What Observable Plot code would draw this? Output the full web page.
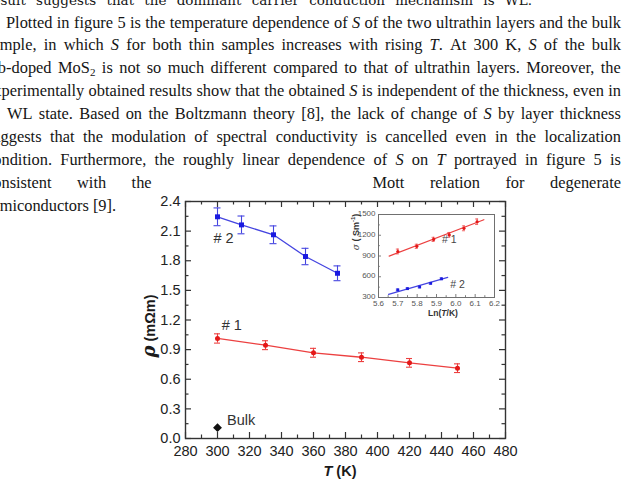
<!DOCTYPE html>
<html><head><meta charset="utf-8">
<script src="https://cdn.jsdelivr.net/npm/d3@7"></script>
<script src="https://cdn.jsdelivr.net/npm/@observablehq/plot@0.6"></script>
<style>
html,body{margin:0;padding:0;width:626px;height:487px;overflow:hidden;background:#fff;}
#page{position:relative;width:626px;height:487px;overflow:hidden;}
.para{position:absolute;left:-14px;width:635px;font-family:"Liberation Serif","Times New Roman",serif;font-size:16.4px;color:#151515;}
.line{display:flex;justify-content:space-between;align-items:baseline;column-gap:3px;height:22.875px;line-height:22.875px;white-space:nowrap;}
.line sub{font-size:11px;line-height:0;vertical-align:-3px;}
.prev{position:absolute;left:-14px;width:546px;top:-8px;font-family:"DejaVu Serif",serif;font-size:13.5px;line-height:16px;color:#151515;display:flex;justify-content:space-between;white-space:nowrap;}
.free{position:absolute;white-space:nowrap;transform:translate(-50%,-50%);font-family:"Liberation Sans",Arial,sans-serif;color:#1a1a1a;}
.rot{transform:translate(-50%,-50%) rotate(-90deg);}
#mainchart,#inset{position:absolute;}
</style></head>
<body><div id="page"></div>
<script>
// ---------- text ----------
const prevLine = "result suggests that the dominant carrier conduction mechanism is WL.";
const paraLines = [
 "Plotted in figure 5 is the temperature dependence of <i>S</i> of the two ultrathin layers and the bulk",
 "sample, in which <i>S</i> for both thin samples increases with rising <i>T</i>. At 300 K, <i>S</i> of the bulk",
 "Nb-doped MoS<sub>2</sub> is not so much different compared to that of ultrathin layers. Moreover, the",
 "experimentally obtained results show that the obtained <i>S</i> is independent of the thickness, even in",
 "WL state. Based on the Boltzmann theory [8], the lack of change of <i>S</i> by layer thickness",
 "suggests that the modulation of spectral conductivity is cancelled even in the localization",
 "condition. Furthermore, the roughly linear dependence of <i>S</i> on <i>T</i> portrayed in figure 5 is",
 "consistent with the | Mott relation for degenerate",
 "semiconductors [9]."
];

// ---------- main chart data ----------
const T2 = [300, 315, 335, 355, 375];
const rho2 = [2.245, 2.163, 2.063, 1.843, 1.673];
const err2 = [0.09, 0.09, 0.09, 0.083, 0.075];
const T1 = [300, 330, 360, 390, 420, 450];
const rho1 = [1.013, 0.945, 0.868, 0.823, 0.766, 0.712];
const err1 = [0.047, 0.045, 0.045, 0.044, 0.044, 0.044];
const bulkT = [300];
const bulkRho = [0.11];
const xMajor = [280, 300, 320, 340, 360, 380, 400, 420, 440, 460, 480];
const xMinor = [290, 310, 330, 350, 370, 390, 410, 430, 450, 470];
const yMajor = [0, 0.3, 0.6, 0.9, 1.2, 1.5, 1.8, 2.1, 2.4];
const yMinor = [0.15, 0.45, 0.75, 1.05, 1.35, 1.65, 1.95, 2.25];
const seriesNames = ["# 2", "# 1", "Bulk"];

// ---------- inset data ----------
const lnT1 = [5.70, 5.798, 5.885, 5.966, 6.042, 6.11];
const sigma1 = [965, 1040, 1140, 1205, 1300, 1395];
const sigErr1 = [35, 30, 30, 35, 35, 40];
const lnT2 = [5.70, 5.75, 5.813, 5.87, 5.926];
const sigma2 = [410, 428, 452, 505, 570];
const sigErr2 = [12, 10, 12, 12, 12];
const fit1X = [5.655, 6.145], fit1Y = [898, 1425];
const fit2X = [5.652, 5.958], fit2Y = [345, 590];
const insXTicks = [5.6, 5.7, 5.8, 5.9, 6.0, 6.1, 6.2];
const insXMinor = [5.65, 5.75, 5.85, 5.95, 6.05, 6.15];
const insYTicks = [300, 600, 900, 1200, 1500];
const insYMinor = [450, 750, 1050, 1350];

const page = document.getElementById("page");

// previous paragraph tail
const pv = document.createElement("div");
pv.className = "prev";
pv.innerHTML = prevLine.split(" ").map(w => `<span>${w}</span>`).join("");
page.appendChild(pv);

// paragraph
const para = document.createElement("div");
para.className = "para";
para.style.top = (28.5 - 16.9) + "px";
paraLines.forEach((ln, i) => {
  const d = document.createElement("div");
  d.className = "line";
  if (i === 0) d.style.paddingLeft = "20px";
  if (i === 4) d.style.paddingLeft = "21px";
  if (i === paraLines.length - 1) { d.style.justifyContent = "flex-start"; d.style.columnGap = "4px"; }
  d.innerHTML = ln.split(" ").map(w => w === "|" ? `<span style="display:inline-block;width:170px"></span>` : `<span>${w}</span>`).join("");
  para.appendChild(d);
});
page.appendChild(para);

// ---------- main chart ----------
const blue = "#1a1ae0", blueLine = "#4545e0";
const red = "#e41818", redLine = "#ec4040";
const W = 400, H = 297, mL = 55, mR = 25, mT = 11, mB = 49;
const pW = W - mL - mR, pH = H - mT - mB;
const d2 = T2.map((t, i) => ({T: t, v: rho2[i], e: err2[i]}));
const d1 = T1.map((t, i) => ({T: t, v: rho1[i], e: err1[i]}));
const db = bulkT.map((t, i) => ({T: t, v: bulkRho[i]}));
const labels = [
  {T: 297.5, v: 2.03, text: seriesNames[0]},
  {T: 302.6, v: 1.15, text: seriesNames[1]},
  {T: 306, v: 0.18, text: seriesNames[2]}
];
const axColor = "#333";
function errMarks(data, color, cap) {
  return [
    Plot.ruleX(data, {x: "T", y1: d => d.v - d.e, y2: d => d.v + d.e, stroke: color, strokeWidth: 1.1}),
    Plot.ruleY(data, {y: d => d.v + d.e, x1: "T", x2: "T", insetLeft: -cap, insetRight: -cap, stroke: color, strokeWidth: 1.1}),
    Plot.ruleY(data, {y: d => d.v - d.e, x1: "T", x2: "T", insetLeft: -cap, insetRight: -cap, stroke: color, strokeWidth: 1.1})
  ];
}
const main = Plot.plot({
  width: W, height: H, marginLeft: mL, marginRight: mR, marginTop: mT, marginBottom: mB,
  style: {background: "transparent", fontFamily: "'Liberation Sans', Arial, sans-serif", fontSize: "14.5px", color: "#222", overflow: "visible"},
  x: {domain: [280, 480]},
  y: {domain: [0, 2.4]},
  marks: [
    Plot.axisX(xMajor, {tickSize: 0, tickPadding: 7, tickFormat: d => String(d), label: null, fontSize: 14.5}),
    Plot.axisY(yMajor, {tickSize: 0, tickPadding: 5, tickFormat: d3.format(".1f"), label: null, fontSize: 14.5}),
    Plot.ruleX(xMajor, {stroke: axColor, strokeWidth: 1.2, insetTop: pH - 6}),
    Plot.ruleX(xMinor, {stroke: axColor, strokeWidth: 1.2, insetTop: pH - 3.5}),
    Plot.ruleX(xMajor, {stroke: axColor, strokeWidth: 1.2, insetBottom: pH - 6}),
    Plot.ruleX(xMinor, {stroke: axColor, strokeWidth: 1.2, insetBottom: pH - 3.5}),
    Plot.ruleY(yMajor, {stroke: axColor, strokeWidth: 1.2, insetRight: pW - 6}),
    Plot.ruleY(yMinor, {stroke: axColor, strokeWidth: 1.2, insetRight: pW - 3.5}),
    Plot.ruleY(yMajor, {stroke: axColor, strokeWidth: 1.2, insetLeft: pW - 6}),
    Plot.ruleY(yMinor, {stroke: axColor, strokeWidth: 1.2, insetLeft: pW - 3.5}),
    Plot.frame({stroke: axColor, strokeWidth: 1.4}),
    Plot.line(d2, {x: "T", y: "v", stroke: blueLine, strokeWidth: 1.3}),
    ...errMarks(d2, blueLine, 3.5),
    Plot.dot(d2, {x: "T", y: "v", symbol: "square", fill: blue, r: 2.8}),
    Plot.line(d1, {x: "T", y: "v", stroke: redLine, strokeWidth: 1.3}),
    ...errMarks(d1, redLine, 3),
    Plot.dot(d1, {x: "T", y: "v", symbol: "circle", fill: red, r: 2.5}),
    Plot.dot(db, {x: "T", y: "v", symbol: "diamond2", fill: "#111", r: 4}),
    Plot.text(labels, {x: "T", y: "v", text: "text", textAnchor: "start", fontSize: 14.5, fill: "#333"})
  ]
});
main.id = "mainchart";
main.style.left = "130px"; main.style.top = "190px";
page.appendChild(main);

// ---------- inset ----------
const iW = 165, iH = 120, imL = 38, imR = 11, imT = 14, imB = 23;
const ipW = iW - imL - imR, ipH = iH - imT - imB;
const i1 = lnT1.map((x, i) => ({x, v: sigma1[i], e: sigErr1[i]}));
const i2 = lnT2.map((x, i) => ({x, v: sigma2[i], e: sigErr2[i]}));
const f1 = fit1X.map((x, i) => ({x, v: fit1Y[i]}));
const f2 = fit2X.map((x, i) => ({x, v: fit2Y[i]}));
const insLabels = [{x: 5.928, v: 1140, text: seriesNames[1]}, {x: 5.971, v: 493, text: seriesNames[0]}];
const insAx = "#707070";
function insErr(data, color) {
  return [
    Plot.ruleX(data, {x: "x", y1: d => d.v - d.e, y2: d => d.v + d.e, stroke: color, strokeWidth: 1}),
    Plot.ruleY(data, {y: d => d.v + d.e, x1: "x", x2: "x", insetLeft: -1.5, insetRight: -1.5, stroke: color, strokeWidth: 0.8}),
    Plot.ruleY(data, {y: d => d.v - d.e, x1: "x", x2: "x", insetLeft: -1.5, insetRight: -1.5, stroke: color, strokeWidth: 0.8})
  ];
}
const inset = Plot.plot({
  width: iW, height: iH, marginLeft: imL, marginRight: imR, marginTop: imT, marginBottom: imB,
  style: {background: "transparent", fontFamily: "'Liberation Sans', Arial, sans-serif", fontSize: "8px", color: "#555", overflow: "visible"},
  x: {domain: [5.6, 6.2]},
  y: {domain: [300, 1500]},
  marks: [
    Plot.axisX(insXTicks, {tickSize: 0, tickPadding: 2.5, tickFormat: d3.format(".1f"), label: null, fontSize: 8}),
    Plot.axisY(insYTicks, {tickSize: 0, tickPadding: 3, tickFormat: d => String(d), label: null, fontSize: 8, dy: -1}),
    Plot.ruleX(insXTicks, {stroke: insAx, strokeWidth: 0.9, insetTop: ipH - 3}),
    Plot.ruleX(insXMinor, {stroke: insAx, strokeWidth: 0.9, insetTop: ipH - 1.8}),
    Plot.ruleY(insYTicks, {stroke: insAx, strokeWidth: 0.9, insetRight: ipW - 3}),
    Plot.ruleY(insYMinor, {stroke: insAx, strokeWidth: 0.9, insetRight: ipW - 1.8}),
    Plot.frame({stroke: insAx, strokeWidth: 1}),
    Plot.line(f1, {x: "x", y: "v", stroke: redLine, strokeWidth: 1.2}),
    Plot.line(f2, {x: "x", y: "v", stroke: blueLine, strokeWidth: 1.2}),
    ...insErr(i1, redLine),
    ...insErr(i2, blueLine),
    Plot.dot(i1, {x: "x", y: "v", symbol: "circle", fill: red, r: 1.6}),
    Plot.dot(i2, {x: "x", y: "v", symbol: "square", fill: blue, r: 1.6}),
    Plot.text(insLabels, {x: "x", y: "v", text: "text", textAnchor: "start", fontSize: 10.5, fill: "#444"})
  ]
});
inset.id = "inset";
inset.style.left = "340px"; inset.style.top = "200px";
page.appendChild(inset);

// ---------- axis titles ----------
function addLabel(html, cx, cy, css, rotate) {
  const s = document.createElement("div");
  s.className = "free" + (rotate ? " rot" : "");
  s.style.left = cx + "px"; s.style.top = cy + "px";
  s.style.cssText += css;
  s.innerHTML = html;
  page.appendChild(s);
}
addLabel('<i style="font-size:18px;font-family:\'DejaVu Serif\',serif">ρ</i> (mΩm)', 148, 326, "font-weight:bold;font-size:14.5px;", true);
addLabel('<i>T</i> (K)', 340, 471, "font-weight:bold;font-size:14.5px;", false);
addLabel('<i style="font-family:\'DejaVu Serif\',serif;font-weight:normal">σ</i> ( Sm<sup style="font-size:6px">-1</sup>)', 355, 232, "font-weight:bold;font-size:9px;color:#333;", true);
addLabel('Ln(<i>T</i>/K)', 443, 313, "font-weight:bold;font-size:8.5px;color:#333;", false);
</script>
</body></html>
